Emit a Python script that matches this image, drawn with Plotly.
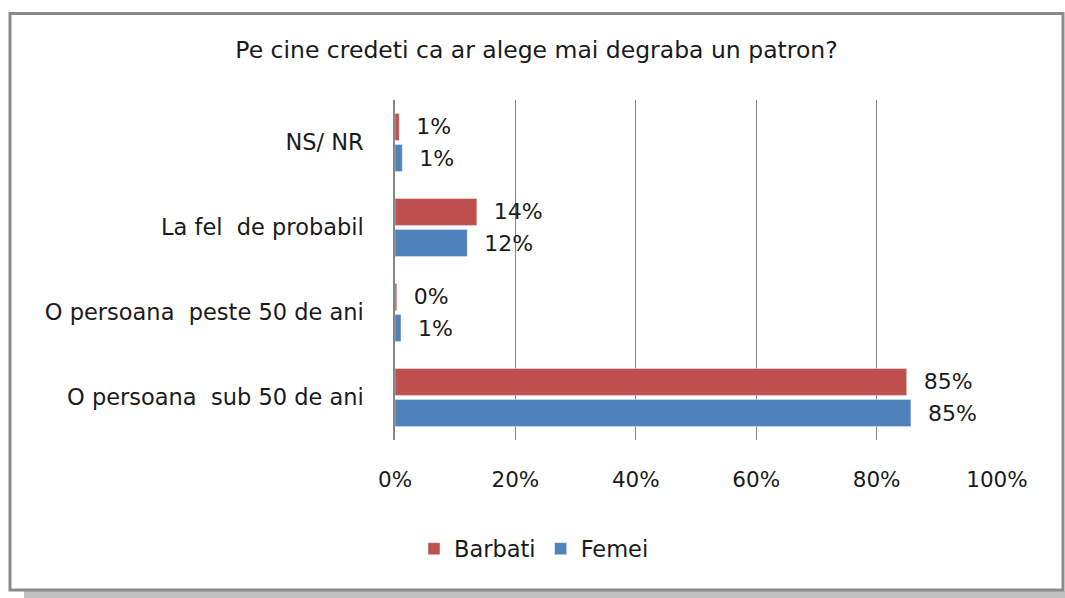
import plotly.graph_objects as go

categories = ["NS/ NR", "La fel  de probabil", "O persoana  peste 50 de ani", "O persoana  sub 50 de ani"]
barbati_values = [0.7, 13.6, 0.3, 85.0]
femei_values = [1.2, 12.0, 1.0, 85.7]
barbati_labels = ["1%", "14%", "0%", "85%"]
femei_labels = ["1%", "12%", "1%", "85%"]
x_ticks = [0, 20, 40, 60, 80, 100]
x_tick_labels = ["0%", "20%", "40%", "60%", "80%", "100%"]

W, H = 1065, 598
L, R, T, B = 395, 997, 100, 440
PW, PH = R - L, B - T


def px(xp):
    return (xp - L) / PW


def py(yp):
    return (B - yp) / PH


FONT = "DejaVu Sans"
TXT = "#1a1a1a"
NB = "\u00a0"

fig = go.Figure()
fig.add_trace(go.Bar(
    y=categories, x=barbati_values, orientation="h", name="Barbati",
    marker=dict(color="#C0504D"),
    text=[NB * 2 + t for t in barbati_labels], textposition="outside",
    textfont=dict(family=FONT, size=22, color=TXT), constraintext="none",
    cliponaxis=False, hoverinfo="skip",
))
fig.add_trace(go.Bar(
    y=categories, x=femei_values, orientation="h", name="Femei",
    marker=dict(color="#4F81BD"),
    text=[NB * 2 + t for t in femei_labels], textposition="outside",
    textfont=dict(family=FONT, size=22, color=TXT), constraintext="none",
    cliponaxis=False, hoverinfo="skip",
))

shapes = [
    dict(type="rect", xref="paper", yref="paper",
         x0=px(24), x1=px(1065), y0=py(591), y1=py(598),
         fillcolor="#c0c0c0", line=dict(width=0), layer="below"),
    dict(type="rect", xref="paper", yref="paper",
         x0=px(10), x1=px(1063), y0=py(13.5), y1=py(590),
         fillcolor="rgba(0,0,0,0)", line=dict(color="#8a8a8a", width=3), layer="below"),
]

fig.update_layout(
    width=W, height=H,
    margin=dict(l=L, r=W - R, t=T, b=H - B, pad=0),
    paper_bgcolor="white", plot_bgcolor="white",
    barmode="group", bargap=0.27, bargroupgap=0.13,
    font=dict(family=FONT, size=22, color=TXT),
    title=dict(text="Pe cine credeti ca ar alege mai degraba un patron?",
               xref="container", yref="container", x=536.5 / W, y=1 - 50 / H,
               xanchor="center", yanchor="middle",
               font=dict(family=FONT, size=23.5, color=TXT)),
    xaxis=dict(range=[0, 100], tickvals=x_ticks, ticktext=x_tick_labels,
               showgrid=True, gridcolor="#868686", gridwidth=1,
               zeroline=False, showline=False, ticks="",
               ticklabelstandoff=24,
               tickfont=dict(family=FONT, size=21.5, color=TXT), fixedrange=True),
    yaxis=dict(autorange="reversed", showgrid=False, zeroline=False,
               showline=True, linecolor="#868686", linewidth=1.5, ticks="",
               ticklabelstandoff=25,
               tickfont=dict(family=FONT, size=22.5, color=TXT), fixedrange=True),
    legend=dict(orientation="h", x=px(534), xanchor="center", y=py(549), yanchor="middle",
                font=dict(family=FONT, size=22.5, color=TXT), traceorder="normal",
                bgcolor="rgba(0,0,0,0)"),
    showlegend=True,
    shapes=shapes,
)

fig.write_html("out.html", config={"displayModeBar": False},
               post_script="document.body.style.margin='0';document.body.style.padding='0';")
